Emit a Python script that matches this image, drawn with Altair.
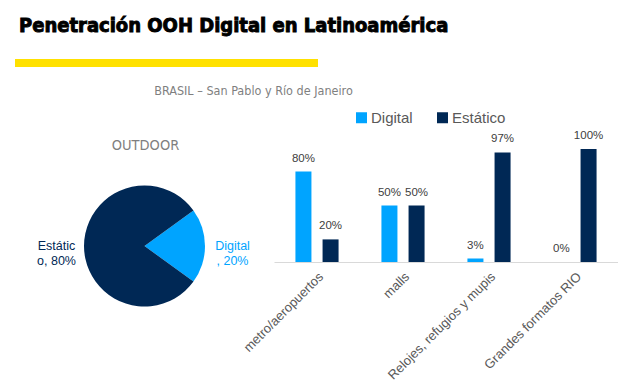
import math
import altair as alt
import pandas as pd

# ---------------- data ----------------
title_text = "Penetración OOH Digital en Latinoamérica"
subtitle_text = "BRASIL – San Pablo y Río de Janeiro"
pie_title = "OUTDOOR"

series = ["Digital", "Estático"]
pie_values = [0.20, 0.80]
pie_labels = ["Digital\n, 20%", "Estátic\no, 80%"]

categories = ["metro/aeropuertos", "malls", "Relojes, refugios y mupis", "Grandes formatos RIO"]
digital_values = [0.80, 0.50, 0.03, 0.00]
estatico_values = [0.20, 0.50, 0.97, 1.00]

colors = ["#00A4FF", "#002855"]

# ---------------- styles ----------------
NARROW = "DejaVu Sans Condensed, Liberation Sans Narrow, sans-serif"
SANS = "Liberation Sans, Arial, sans-serif"
PIE_W, PIE_H = 259, 194
BAR_W, BAR_H = 344, 113

color_scale = alt.Scale(domain=series, range=colors)

# ---------------- header ----------------
hdr_title = alt.Chart(pd.DataFrame({"t": [title_text]})).mark_text(
    font=NARROW, fontSize=20, fontWeight="bold", color="black",
    stroke="black", strokeWidth=0.9, align="left", baseline="alphabetic"
).encode(text="t:N", x=alt.value(4), y=alt.value(23.5))

hdr_rule = alt.Chart(pd.DataFrame({"a": [0]})).mark_rect(
    color="#FFE100"
).encode(x=alt.value(0), x2=alt.value(303), y=alt.value(51), y2=alt.value(59))

hdr_sub = alt.Chart(pd.DataFrame({"t": [subtitle_text]})).mark_text(
    font=NARROW, fontSize=12.5, color="#7f7f7f", align="center", baseline="alphabetic"
).encode(text="t:N", x=alt.value(238.5), y=alt.value(87))

header = alt.layer(hdr_title, hdr_rule, hdr_sub).properties(width=600, height=141)

# ---------------- pie ----------------
pie_df = pd.DataFrame({"series": series, "value": pie_values,
                       "label": pie_labels, "idx": list(range(len(series)))})
start = math.radians(54)
pie_base = alt.Chart(pie_df).encode(
    theta=alt.Theta("value:Q", stack=True,
                    scale=alt.Scale(range=[start, start + 2 * math.pi])),
    order=alt.Order("idx:Q"),
    color=alt.Color("series:N", scale=color_scale, legend=None),
)
arc = pie_base.mark_arc(outerRadius=60.5)
pie_text = pie_base.mark_text(
    radius=88, lineBreak="\n", lineHeight=15, fontSize=12.5, font=SANS,
    align="center", baseline="middle"
).encode(text="label:N")
outdoor = alt.Chart(pd.DataFrame({"t": [pie_title]})).mark_text(
    font=NARROW, fontSize=14.5, color="#7f7f7f", baseline="middle", align="center"
).encode(text="t:N", x=alt.value(PIE_W / 2 + 1), y=alt.value(-3))

pie = alt.layer(arc, pie_text, outdoor).properties(width=PIE_W, height=PIE_H)

# ---------------- bars ----------------
rows = []
for c, d, e in zip(categories, digital_values, estatico_values):
    rows.append({"cat": c, "series": series[0], "val": d})
    rows.append({"cat": c, "series": series[1], "val": e})
bar_df = pd.DataFrame(rows)

bar_base = alt.Chart(bar_df).encode(
    x=alt.X("cat:N", sort=categories,
            scale=alt.Scale(paddingInner=0, paddingOuter=0),
            axis=alt.Axis(title=None, labelAngle=-45, labelFontSize=13,
                          labelColor="#595959", labelFont=SANS, ticks=False,
                          domainColor="#d9d9d9", labelPadding=8, labelLimit=0)),
    xOffset=alt.XOffset("series:N", sort=series,
                        scale=alt.Scale(paddingInner=0.41, paddingOuter=0.79)),
    y=alt.Y("val:Q", scale=alt.Scale(domain=[0, 1]), axis=None),
)
bars = bar_base.mark_bar().encode(
    color=alt.Color("series:N", scale=color_scale, sort=series,
                    legend=alt.Legend(title=None, orient="none", legendX=80, legendY=-39,
                                      direction="horizontal", symbolType="square",
                                      symbolSize=121, symbolStrokeWidth=0,
                                      labelFontSize=15, labelFont=SANS,
                                      labelColor="#595959", labelOffset=2,
                                      columnPadding=22))
)
bar_labels = bar_base.mark_text(
    dy=-10, baseline="alphabetic", fontSize=11.5, color="#404040", font=SANS
).encode(text=alt.Text("val:Q", format=".0%"))

bar_chart = alt.layer(bars, bar_labels).properties(width=BAR_W, height=BAR_H)

row = alt.hconcat(pie, bar_chart, spacing=0, bounds="flush").resolve_scale(color="independent")

chart = alt.vconcat(header, row, spacing=0, bounds="flush").properties(
    padding={"left": 7, "top": 0, "right": 0, "bottom": 0}
).configure_view(stroke=None)

chart.save("out.html", embed_options={"renderer": "svg", "actions": False})
